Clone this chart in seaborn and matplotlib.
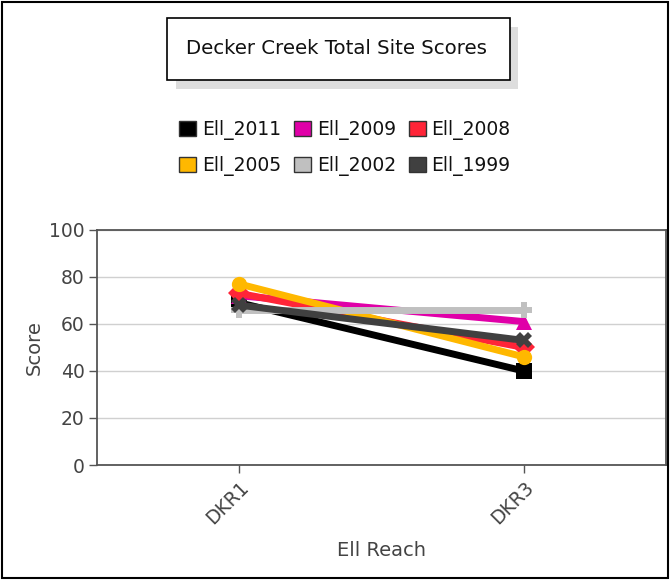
import matplotlib
matplotlib.use('Agg')
import matplotlib.pyplot as plt
import matplotlib.patches as mpatches
import pandas as pd
import seaborn as sns

# data
reaches = ['DKR1', 'DKR3']
years = ['Ell_2011', 'Ell_2009', 'Ell_2008', 'Ell_2005', 'Ell_2002', 'Ell_1999']
ell_2011 = [69, 40]
ell_2009 = [72, 61]
ell_2008 = [73, 50]
ell_2005 = [77, 46]
ell_2002 = [66, 66]
ell_1999 = [68, 53]

colors = ['#000000', '#e000a8', '#ff2538', '#ffb800', '#c0c0c0', '#404040']
markers = ['s', '^', 'D', 'o', 'P', 'X']

rows = []
for name, vals in zip(years, [ell_2011, ell_2009, ell_2008, ell_2005, ell_2002, ell_1999]):
    for r, v in zip(reaches, vals):
        rows.append({'reach': r, 'score': v, 'year': name})
df = pd.DataFrame(rows)

sns.set_style('white')
plt.rcParams['font.family'] = ['DejaVu Sans']

fig = plt.figure(figsize=(6.71, 5.82), dpi=100)
ax = fig.add_axes([0.1446, 0.201, 0.8479, 0.404])

sns.lineplot(data=df, x='reach', y='score', hue='year', style='year',
             hue_order=years, style_order=years,
             palette=dict(zip(years, colors)), markers=dict(zip(years, markers)),
             dashes=False, linewidth=5, markersize=11, markeredgewidth=0,
             legend=False, ax=ax)

ax.set_xlim(-0.5, 1.5)
ax.set_ylim(0, 100)
ax.set_yticks([0, 20, 40, 60, 80, 100])
ax.yaxis.grid(True, color='#d0d0d0', lw=1)
ax.set_axisbelow(True)
for s in ax.spines.values():
    s.set_color('#555555')
    s.set_linewidth(1.3)
ax.tick_params(axis='both', length=6, width=1, color='#555555', labelcolor='#444444',
               labelsize=13.5, direction='out', left=True, bottom=True, pad=3)
plt.setp(ax.get_xticklabels(), rotation=45, ha='right', rotation_mode='anchor')
ax.set_xlabel('Ell Reach', fontsize=14, color='#444444', labelpad=10)
ax.set_ylabel('Score', fontsize=14, color='#444444', labelpad=4)

# title box with shadow
fig.patches.append(mpatches.Rectangle((176 / 671, 1 - 89 / 582), 342 / 671, 62 / 582,
                                      transform=fig.transFigure, facecolor='#dddddd',
                                      edgecolor='none', zorder=0))
fig.patches.append(mpatches.Rectangle((167 / 671, 1 - 80 / 582), 343 / 671, 62 / 582,
                                      transform=fig.transFigure, facecolor='white',
                                      edgecolor='black', lw=1.2, zorder=1))
fig.text(337 / 671, 1 - 49 / 582, 'Decker Creek Total Site Scores', ha='center',
         va='center', fontsize=14.2, color='#111111', zorder=2)

# legend, row-major order like the reference
order = [0, 3, 1, 4, 2, 5]
handles = [mpatches.Patch(facecolor=colors[i], edgecolor='#333333', lw=1) for i in order]
labels = [years[i] for i in order]
fig.legend(handles, labels, ncol=3, loc='center', bbox_to_anchor=(345 / 671, 1 - 148 / 582),
           frameon=False, fontsize=13.5, handlelength=0.9, handleheight=0.9,
           handletextpad=0.3, columnspacing=0.7, labelspacing=0.85,
           borderpad=0, borderaxespad=0, labelcolor='#111111')

# outer border
fig.patches.append(mpatches.Rectangle((2 / 671, 4 / 582), 666 / 671, 576 / 582,
                                      transform=fig.transFigure, facecolor='none',
                                      edgecolor='black', lw=1.5))

fig.savefig('out.png', dpi=100)
